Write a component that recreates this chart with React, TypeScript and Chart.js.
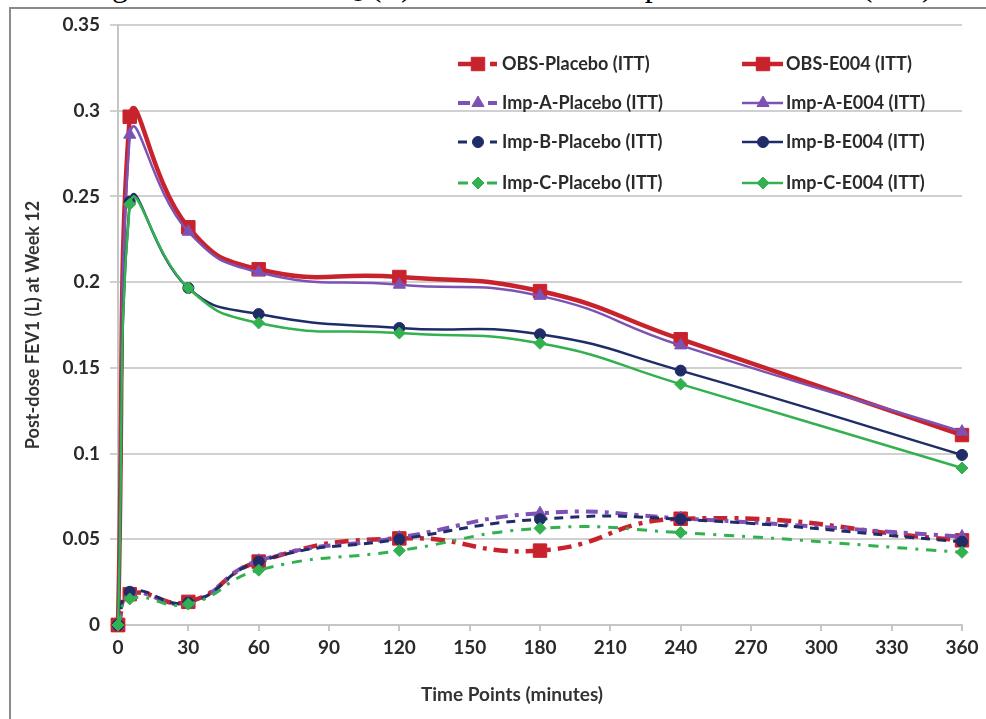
import React, { useEffect, useRef } from "react";
import { Chart, registerables } from "chart.js";
Chart.register(...registerables);

// ---- data ----
const timePoints = [0, 5, 30, 60, 120, 180, 240, 360];
const obsPlacebo = [0, 0.018, 0.0135, 0.037, 0.0505, 0.0434, 0.062, 0.0494];
const obsE004 = [0, 0.2965, 0.232, 0.2075, 0.203, 0.1948, 0.1667, 0.1108];
const impAPlacebo = [0, 0.018, 0.013, 0.0375, 0.051, 0.0652, 0.0622, 0.0516];
const impAE004 = [0, 0.286, 0.2294, 0.2058, 0.1985, 0.192, 0.1631, 0.1128];
const impBPlacebo = [0, 0.0194, 0.013, 0.037, 0.05, 0.0617, 0.0617, 0.0486];
const impBE004 = [0, 0.247, 0.1966, 0.1814, 0.1733, 0.1696, 0.1484, 0.0992];
const impCPlacebo = [0, 0.0152, 0.0122, 0.032, 0.0434, 0.0564, 0.0539, 0.0424];
const impCE004 = [0, 0.2455, 0.1966, 0.1762, 0.1703, 0.1643, 0.1405, 0.0916];

const seriesNames = [
  "OBS-Placebo (ITT)",
  "OBS-E004 (ITT)",
  "Imp-A-Placebo (ITT)",
  "Imp-A-E004 (ITT)",
  "Imp-B-Placebo (ITT)",
  "Imp-B-E004 (ITT)",
  "Imp-C-Placebo (ITT)",
  "Imp-C-E004 (ITT)",
];
const seriesValues = [obsPlacebo, obsE004, impAPlacebo, impAE004, impBPlacebo, impBE004, impCPlacebo, impCE004];

const xTickValues = [0, 30, 60, 90, 120, 150, 180, 210, 240, 270, 300, 330, 360];
const yTickValues = [0, 0.05, 0.1, 0.15, 0.2, 0.25, 0.3, 0.35];
const yTickLabels = ["0", "0.05", "0.1", "0.15", "0.2", "0.25", "0.3", "0.35"];

const xTitle = "Time Points (minutes)";
const yTitle = "Post-dose FEV1 (L) at Week 12";
const figureTitleA = "Figure 3: Serial FEV";
const figureTitleB = " (L) with Different Imputation Models (ITT)";

// ---- styles ----
const RED = "#c8232c";
const PURPLE = "#7e52b5";
const NAVY = "#1f2c68";
const GREEN = "#33b04f";

const styles = [
  { color: RED, width: 4.5, dash: [14, 7, 4, 7], point: "rect", radius: 9.5 },
  { color: RED, width: 4.5, dash: [], point: "rect", radius: 9.5 },
  { color: PURPLE, width: 4, dash: [12, 7, 4, 7], point: "triangle", radius: 7 },
  { color: PURPLE, width: 2.5, dash: [], point: "triangle", radius: 7 },
  { color: NAVY, width: 3, dash: [9, 7], point: "circle", radius: 5.5 },
  { color: NAVY, width: 2.5, dash: [], point: "circle", radius: 5.5 },
  { color: GREEN, width: 3, dash: [10, 8, 3, 8], point: "rectRot", radius: 6 },
  { color: GREEN, width: 2.5, dash: [], point: "rectRot", radius: 6 },
];

const FONT = "Lato, 'Open Sans', sans-serif";

function drawMarker(ctx: CanvasRenderingContext2D, style: string, r: number, x: number, y: number) {
  ctx.beginPath();
  if (style === "rect") {
    const s = Math.SQRT1_2 * r;
    ctx.rect(x - s, y - s, 2 * s, 2 * s);
  } else if (style === "triangle") {
    ctx.moveTo(x, y - r);
    ctx.lineTo(x + r * Math.cos(Math.PI / 6), y + r / 2);
    ctx.lineTo(x - r * Math.cos(Math.PI / 6), y + r / 2);
    ctx.closePath();
  } else if (style === "circle") {
    ctx.arc(x, y, r, 0, Math.PI * 2);
  } else {
    ctx.moveTo(x, y - r);
    ctx.lineTo(x + r, y);
    ctx.lineTo(x, y + r);
    ctx.lineTo(x - r, y);
    ctx.closePath();
  }
  ctx.fill();
  ctx.stroke();
}

const overlayPlugin = {
  id: "overlay",
  afterDraw(chart: any) {
    const ctx = chart.ctx;
    const area = chart.chartArea;
    ctx.save();
    // axis titles
    ctx.fillStyle = "#333";
    ctx.textAlign = "center";
    ctx.textBaseline = "middle";
    ctx.font = `bold 19px ${FONT}`;
    ctx.fillText(xTitle, 512, 695);
    ctx.save();
    ctx.translate(33, (area.top + area.bottom) / 2);
    ctx.rotate(-Math.PI / 2);
    ctx.font = `bold 18px ${FONT}`;
    ctx.fillText(yTitle, 0, 0);
    ctx.restore();

    // legend
    const cols = [
      { x0: 458, x1: 497, mx: 478, tx: 502 },
      { x0: 742, x1: 783, mx: 763, tx: 786 },
    ];
    const rows = [64, 103, 142, 183];
    seriesNames.forEach((name, i) => {
      const c = cols[i % 2];
      const y = rows[Math.floor(i / 2)];
      const s = styles[i];
      ctx.save();
      ctx.strokeStyle = s.color;
      ctx.lineWidth = s.width;
      ctx.setLineDash(s.dash);
      ctx.beginPath();
      ctx.moveTo(c.x0, y);
      ctx.lineTo(c.x1, y);
      ctx.stroke();
      ctx.setLineDash([]);
      ctx.fillStyle = s.color;
      ctx.lineWidth = 1;
      drawMarker(ctx, s.point, s.radius, c.mx, y);
      ctx.restore();
      ctx.fillStyle = "#2a2a2a";
      ctx.font = `bold 18px ${FONT}`;
      ctx.textAlign = "left";
      ctx.textBaseline = "middle";
      ctx.fillText(name, c.tx, y);
    });
    ctx.restore();
  },
};

export default function App() {
  const ref = useRef<HTMLCanvasElement | null>(null);
  useEffect(() => {
    if (!ref.current) return;
    const datasets = seriesValues.map((vals, i) => {
      const s = styles[i];
      return {
        label: seriesNames[i],
        data: timePoints.map((t, j) => ({ x: t, y: vals[j] })),
        borderColor: s.color,
        backgroundColor: s.color,
        borderWidth: s.width,
        borderDash: s.dash,
        borderCapStyle: "butt" as const,
        pointStyle: s.point,
        pointRadius: s.radius,
        pointBorderWidth: 1,
        pointBackgroundColor: s.color,
        pointBorderColor: s.color,
        tension: 0.5,
        fill: false,
        clip: false,
        order: seriesNames.length - i,
      };
    });
    const chart = new Chart(ref.current, {
      type: "line",
      data: { datasets },
      plugins: [overlayPlugin],
      options: {
        animation: false,
        responsive: false,
        maintainAspectRatio: false,
        layout: { padding: { top: 25, right: 24, left: 0, bottom: 0 } },
        plugins: { legend: { display: false }, tooltip: { enabled: false }, title: { display: false } },
        scales: {
          x: {
            type: "linear",
            min: 0,
            max: 360,
            afterBuildTicks: (scale: any) => {
              scale.ticks = xTickValues.map((v) => ({ value: v }));
            },
            afterFit: (scale: any) => {
              scale.height = 94;
            },
            ticks: {
              color: "#2a2a2a",
              font: { family: FONT, size: 19, weight: "bold" },
              padding: 5,
              maxRotation: 0,
              autoSkip: false,
            },
            grid: { drawOnChartArea: false, drawTicks: true, tickLength: 6, color: "#c6c6c6", lineWidth: 2 },
            border: { display: true, color: "#c6c6c6", width: 2 },
          },
          y: {
            type: "linear",
            min: 0,
            max: 0.35,
            afterBuildTicks: (scale: any) => {
              scale.ticks = yTickValues.map((v) => ({ value: v }));
            },
            afterFit: (scale: any) => {
              scale.width = 118;
            },
            ticks: {
              color: "#2a2a2a",
              font: { family: FONT, size: 19, weight: "bold" },
              padding: 10,
              callback: (v: any) => {
                const idx = yTickValues.findIndex((t) => Math.abs(t - v) < 1e-9);
                return idx >= 0 ? yTickLabels[idx] : "";
              },
            },
            grid: { drawTicks: true, tickLength: 8, color: "#d0d0d0", lineWidth: 2 },
            border: { display: true, color: "#c6c6c6", width: 2 },
          },
        },
      } as any,
    });
    return () => chart.destroy();
  }, []);

  return (
    <div style={{ position: "absolute", left: 0, top: 0, width: 986, height: 719, overflow: "hidden", background: "#fff" }}>
      <div
        style={{
          position: "absolute",
          left: 0,
          top: -31,
          width: 1018,
          textAlign: "center",
          fontFamily: "'Liberation Serif', 'Times New Roman', serif",
          fontSize: 32,
          lineHeight: "32px",
          color: "#000",
          whiteSpace: "nowrap",
        }}
      >
        {figureTitleA}
        <sub style={{ fontSize: 20, verticalAlign: "-5px" }}>1</sub>
        {figureTitleB}
      </div>
      <div
        style={{
          position: "absolute",
          left: 9,
          top: 7,
          width: 1000,
          height: 800,
          borderLeft: "2px solid #8a8a8a",
          borderTop: "2px solid #8a8a8a",
          background: "#fff",
        }}
      />
      <canvas ref={ref} width={986} height={719} style={{ position: "absolute", left: 0, top: 0, width: 986, height: 719 }} />
    </div>
  );
}
